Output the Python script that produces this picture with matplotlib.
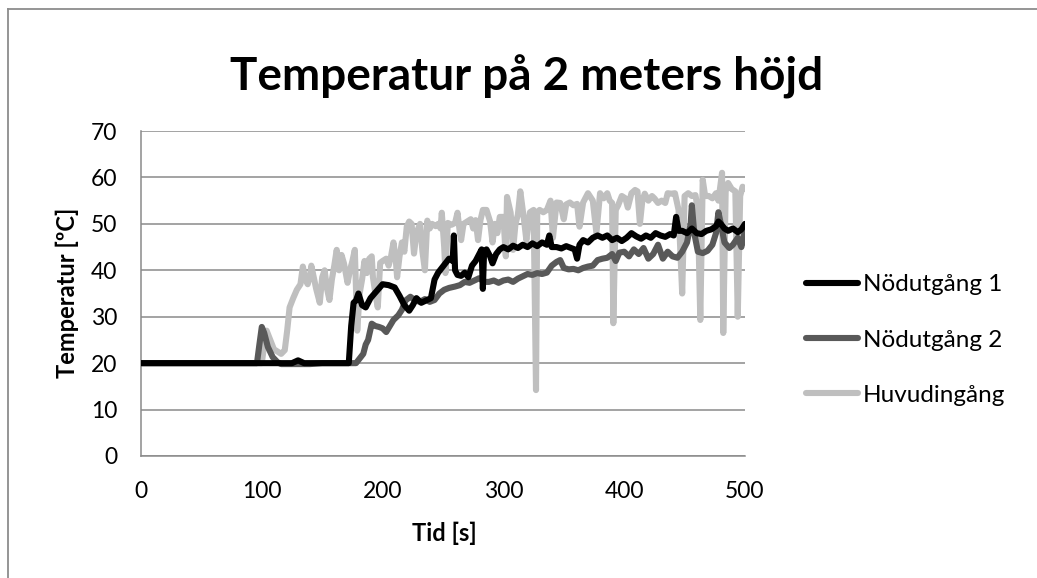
import matplotlib
matplotlib.use("Agg")
import matplotlib.pyplot as plt
from matplotlib.lines import Line2D

# ---- data: time [s] and temperature [°C] for each measuring point ----
t_nod1 = [0, 125, 130, 135, 172, 174, 176, 178, 180, 183, 186, 190, 195, 200, 205, 210, 214, 218,
          222, 225, 228, 232, 236, 240, 243, 246, 249, 252, 255, 258, 259, 260, 262, 265, 268, 271,
          274, 277, 280, 282, 283, 284, 286, 289, 291, 294, 297, 300, 304, 308, 312, 316, 320, 324,
          328, 332, 336, 338, 340, 344, 348, 352, 356, 359, 361, 363, 366, 370, 374, 378, 382, 386,
          390, 394, 398, 402, 406, 410, 414, 418, 422, 426, 430, 434, 438, 441, 443, 445, 448, 452,
          456, 460, 464, 468, 472, 476, 478, 480, 483, 486, 490, 494, 497, 500]
temp_nod1 = [20, 20, 20.6, 20, 20, 28, 33, 33.5, 35, 32.5, 32, 34, 35.5, 37, 36.8, 36.3, 34.5, 32.5,
             31.3, 32.5, 34, 33, 33.5, 34, 38, 39.5, 40.5, 41.5, 42.5, 42, 47.5, 40, 39, 38.8, 39.5, 38.5,
             41, 42, 43.5, 44.5, 36, 44, 44.5, 43, 41.5, 43.5, 44.5, 45, 44.5, 45.3, 44.8, 45.5, 45, 45.8,
             45.2, 46, 45.5, 47.5, 45, 45, 44.7, 45.2, 44.8, 44.5, 42.5, 45.5, 46.5, 46, 47, 47.5, 47, 47.5,
             46.5, 47, 46.3, 47, 48, 47.3, 46.8, 47.5, 47, 48, 47.5, 47.2, 47.8, 47.5, 51.5, 48.5, 48.5, 48,
             49, 48, 47.8, 48.5, 48.8, 49.5, 50.5, 50, 49, 48.5, 49, 48.2, 48.8, 50]

t_nod2 = [0, 96, 98, 100, 102, 105, 109, 113, 116, 140, 150, 178, 181, 184, 186, 188, 191, 194, 197,
          200, 203, 206, 209, 213, 216, 219, 223, 227, 231, 235, 239, 243, 247, 251, 255, 260, 264,
          268, 272, 276, 280, 284, 288, 292, 296, 300, 304, 308, 312, 316, 320, 324, 328, 332, 336,
          340, 344, 347, 350, 354, 358, 362, 366, 370, 374, 378, 382, 386, 390, 393, 396, 400, 404,
          408, 412, 416, 420, 424, 428, 432, 436, 440, 444, 448, 452, 455, 456, 458, 461, 465, 469,
          473, 476, 478, 480, 483, 487, 490, 494, 497, 500]
temp_nod2 = [20, 20, 24, 27.8, 26.5, 23.5, 21.3, 20.2, 19.8, 19.8, 20, 20, 21, 22, 24, 25, 28.5, 28, 27.8,
             27.5, 26.7, 28, 29.3, 30.3, 31.5, 33.5, 34.3, 33.5, 33.2, 33.8, 33.2, 33.6, 35, 35.8, 36.2,
             36.5, 36.8, 37.5, 37.3, 37.8, 38.3, 37.5, 37.5, 37.8, 37.3, 37.8, 38, 37.5, 38.2, 38.7, 39.2,
             39, 39.4, 39.2, 39.5, 41, 41.8, 42.2, 40.5, 40.2, 40.3, 40, 40.5, 40.8, 41, 42.2, 42.5, 42.7,
             43.5, 42, 43.8, 44, 43, 44.5, 43.5, 44.8, 42.5, 43.5, 45.5, 42.5, 44, 43, 42.7, 44, 46, 50,
             54, 48, 44, 43.7, 44.2, 45.5, 48, 52.5, 50, 46, 44.8, 45.5, 47, 45, 48.5]

t_huvud = [0, 100, 102, 104, 107, 110, 113, 116, 119, 121, 123, 126, 129, 132, 134, 136, 138, 140, 141,
           143, 145, 148, 150, 152, 154, 156, 158, 160, 162, 164, 166, 168, 171, 173, 175, 177, 179,
           181, 183, 185, 187, 189, 191, 192, 194, 196, 198, 200, 203, 205, 207, 209, 211, 212, 214,
           216, 218, 220, 222, 224, 226, 228, 231, 233, 235, 237, 239, 241, 244, 246, 248, 249, 251,
           252, 254, 257, 260, 262, 264, 265, 267, 270, 273, 275, 277, 279, 281, 283, 286, 289, 291,
           293, 295, 297, 300, 302, 303, 306, 308, 310, 312, 314, 317, 319, 322, 325, 327, 328, 330,
           333, 336, 339, 341, 344, 347, 350, 352, 355, 358, 361, 363, 366, 370, 374, 377, 380, 383,
           386, 388, 390, 391, 393, 395, 398, 401, 403, 406, 409, 411, 413, 415, 417, 420, 423, 425,
           428, 431, 434, 436, 439, 442, 445, 448, 450, 453, 456, 459, 461, 463, 465, 467, 470, 473,
           476, 478, 481, 482, 484, 486, 489, 492, 494, 496, 498, 500]
temp_huvud = [20, 20, 24, 27, 25, 23, 22.5, 22, 22.8, 27, 32, 34, 35.8, 37, 40.8, 38, 37, 39, 41,
              38.5, 36, 33, 38.5, 40, 36, 33.6, 38, 41, 44.4, 40, 43.3, 41.5, 37.3, 40, 42, 44.4, 27,
              35, 38, 42, 39.4, 42.5, 43, 38.5, 35, 32, 41.6, 42, 42.5, 41, 43, 46, 42, 38.5, 43,
              46, 44, 49.4, 50.5, 50, 43.6, 48, 50, 44, 40, 50.7, 49, 50, 49.5, 50, 49, 52.4, 45,
              39.4, 50.2, 49.8, 50.2, 52.4, 48, 46.5, 50, 50.5, 51, 49, 50.8, 46.5, 50.8, 53, 53, 50.5, 46,
              50, 48, 51.5, 51.5, 43, 55.8, 52.4, 44.4, 50, 52, 57, 51, 46.5, 52.5, 53, 14.2, 52.5, 53,
              52.5, 53, 55, 47, 54.6, 54.5, 51, 54.2, 54.6, 54, 54.3, 49.4, 54.6, 56.6, 55, 48, 56.6, 55.5,
              56.6, 55, 54.5, 28.6, 53, 54, 56, 55.5, 53.5, 56.6, 57.3, 57, 50, 55, 56.5, 55, 56, 55.5,
              54.5, 55, 54.5, 56.6, 56.5, 56.6, 53, 35, 56, 56.6, 56, 56.2, 53, 29.3, 59.5, 56, 56, 55.5,
              56.6, 55, 61, 26.5, 57, 58.8, 57.5, 57, 30, 56, 58, 57.5]

series_names = ["Nödutgång 1", "Nödutgång 2", "Huvudingång"]
series_colors = ["#000000", "#595959", "#bfbfbf"]

x_ticks = [0, 100, 200, 300, 400, 500]
y_ticks = [0, 10, 20, 30, 40, 50, 60, 70]

W, H = 1037, 578
plt.rcParams["font.family"] = ["Lato", "DejaVu Sans"]
fig = plt.figure(figsize=(W / 100, H / 100), dpi=100)
fig.patch.set_facecolor("white")

# outer chart frame (top and left edges)
frame_col = "#8c8c8c"
fig.add_artist(Line2D([8 / W, 1.0], [1 - 9 / H, 1 - 9 / H], color=frame_col, lw=1.3,
                      transform=fig.transFigure))
fig.add_artist(Line2D([8 / W, 8 / W], [0.0, 1 - 9 / H], color=frame_col, lw=1.3,
                      transform=fig.transFigure))

ax = fig.add_axes([141 / W, 1 - 456 / H, (745 - 141) / W, (456 - 131) / H])

lw = 4.4
ax.plot(t_huvud, temp_huvud, color=series_colors[2], lw=lw, solid_joinstyle="round",
        solid_capstyle="round", zorder=3)
ax.plot(t_nod2, temp_nod2, color=series_colors[1], lw=lw, solid_joinstyle="round",
        solid_capstyle="round", zorder=4)
ax.plot(t_nod1, temp_nod1, color=series_colors[0], lw=lw, solid_joinstyle="round",
        solid_capstyle="round", zorder=5)

ax.set_xlim(0, 500)
ax.set_ylim(0, 70)
ax.set_xticks(x_ticks)
ax.set_yticks(y_ticks)
ax.tick_params(axis="both", length=0, labelsize=16.5, colors="#000000")
ax.tick_params(axis="y", pad=17)
ax.tick_params(axis="x", pad=18)
ax.grid(axis="y", color="#8a8a8a", lw=1.1, zorder=1)
ax.set_axisbelow(True)
for side in ("top", "right"):
    ax.spines[side].set_visible(False)
for side in ("left", "bottom"):
    ax.spines[side].set_color("#8a8a8a")
    ax.spines[side].set_linewidth(1.1)

fig.text(527 / W, 1 - 77 / H, "Temperatur på 2 meters höjd", ha="center", va="center",
         fontsize=33, fontweight="bold")
fig.text(67 / W, 1 - 293 / H, "Temperatur [ºC]", ha="center", va="center", rotation=90,
         fontsize=17, fontweight="bold")
fig.text(444 / W, 1 - 533 / H, "Tid [s]", ha="center", va="center",
         fontsize=17, fontweight="bold")

handles = [Line2D([], [], color=c, lw=lw, solid_capstyle="round") for c in series_colors]
fig.legend(handles, series_names, loc="center left", bbox_to_anchor=(806 / W, 1 - 340 / H),
           frameon=False, fontsize=17.5, handlelength=2.15, handletextpad=0.2, labelspacing=1.4,
           borderpad=0, borderaxespad=0)

fig.savefig("out.png", dpi=100, facecolor="white")
